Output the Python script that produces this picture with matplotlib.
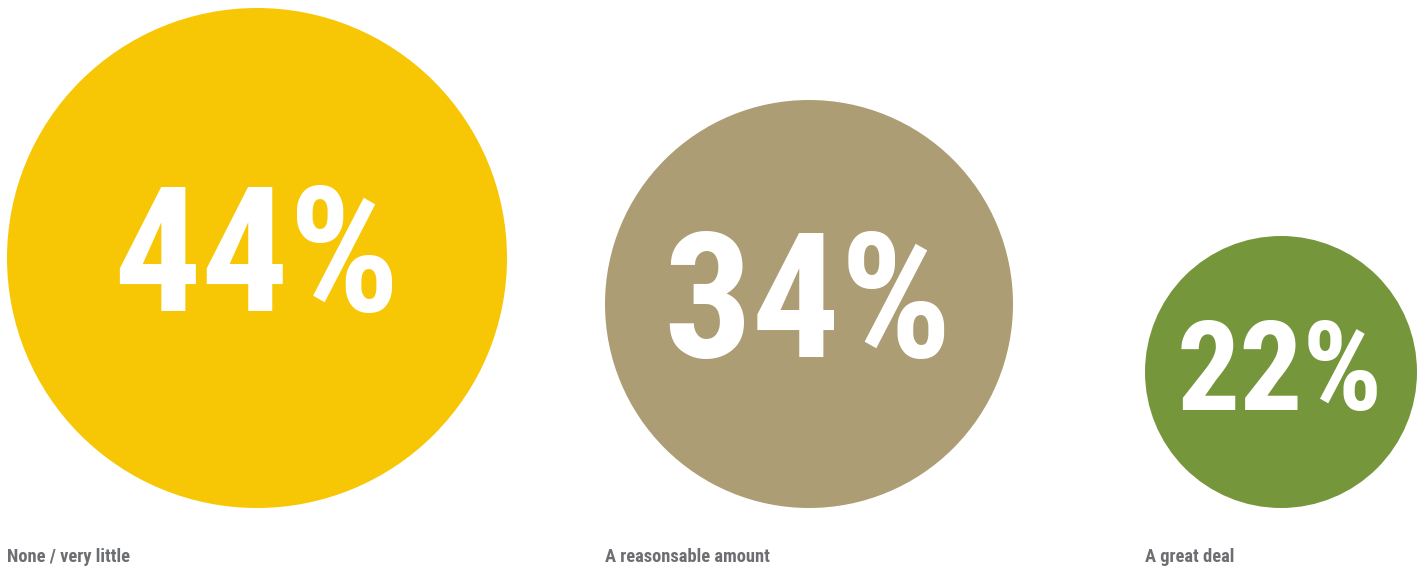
import matplotlib.pyplot as plt
from matplotlib.patches import Circle

categories = ['None / very little', 'A reasonsable amount', 'A great deal']
values = [44, 34, 22]
colors = ['#f7c706', '#ac9d74', '#76963c']

# layout in pixels (figure is 1426 x 568)
centers_x = [257, 809, 1281]
radii = [250, 204, 136]
font_sizes = [125, 126, 90]
base_y = 508

plt.rcParams['font.family'] = ['Roboto Condensed', 'Roboto', 'DejaVu Sans']

fig = plt.figure(figsize=(14.26, 5.68), dpi=100)
ax = fig.add_axes([0, 0, 1, 1])
ax.set_xlim(0, 1426)
ax.set_ylim(568, 0)
ax.axis('off')

for cat, val, col, cx, r, fs in zip(categories, values, colors, centers_x, radii, font_sizes):
    cy = base_y - r
    ax.add_patch(Circle((cx, cy), r, color=col, lw=0))
    cap = fs * 100 / 72 * 0.71
    ax.text(cx - 1, cy + 0.43 * cap, f'{val}%', color='white', fontsize=fs,
            fontweight='bold', ha='center', va='baseline')
    ax.text(cx - r, 562, cat, color='#6d6e71', fontsize=13.3,
            fontweight='bold', ha='left', va='baseline')

fig.savefig('out.png', dpi=100)
